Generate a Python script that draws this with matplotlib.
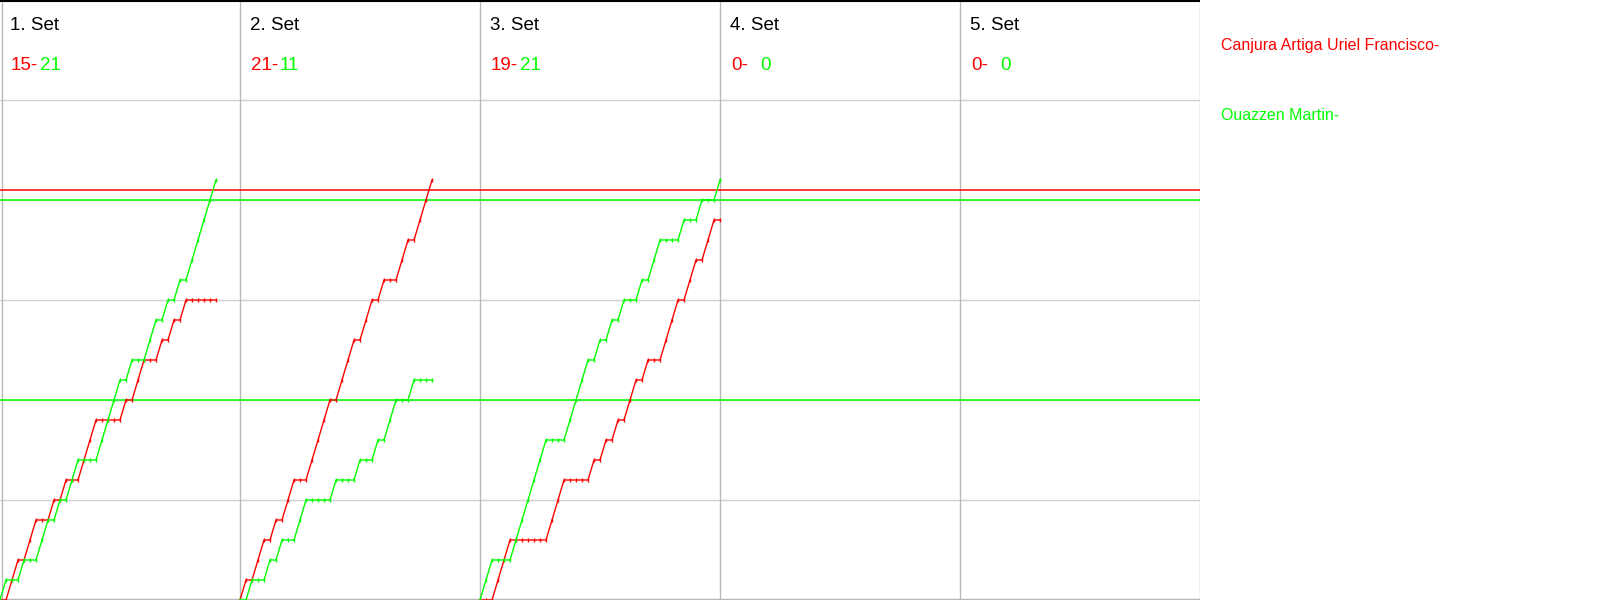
import numpy as np
import matplotlib
matplotlib.use("Agg")
import matplotlib.pyplot as plt

plt.rcParams['font.family'] = ['Liberation Sans', 'DejaVu Sans']

# ---- data (cumulative score after each rally) ----
set_titles = ["1. Set", "2. Set", "3. Set", "4. Set", "5. Set"]
player_red = "Canjura Artiga Uriel Francisco-"
player_green = "Ouazzen Martin-"

red_set1 = [0, 0, 1, 2, 2, 3, 4, 4, 4, 5, 5, 6, 6, 6, 7, 8, 9, 9, 9, 9, 9, 10, 10,
            11, 12, 12, 12, 13, 13, 14, 14, 15, 15, 15, 15, 15, 15]
green_set1 = [0, 1, 1, 1, 2, 2, 2, 3, 4, 4, 5, 5, 6, 7, 7, 7, 7, 8, 9, 10, 11, 11, 12,
              12, 12, 13, 14, 14, 15, 15, 16, 16, 17, 18, 19, 20, 21]

red_set2 = [0, 1, 1, 2, 3, 3, 4, 4, 5, 6, 6, 6, 7, 8, 9, 10, 10, 11, 12, 13, 13, 14,
            15, 15, 16, 16, 16, 17, 18, 18, 19, 20, 21]
green_set2 = [0, 0, 1, 1, 1, 2, 2, 3, 3, 3, 4, 5, 5, 5, 5, 5, 6, 6, 6, 6, 7, 7, 7, 8,
              8, 9, 10, 10, 10, 11, 11, 11, 11]

red_set3 = [0, 0, 0, 1, 2, 3, 3, 3, 3, 3, 3, 3, 4, 5, 6, 6, 6, 6, 6, 7, 7, 8, 8, 9, 9,
            10, 11, 11, 12, 12, 12, 13, 14, 15, 15, 16, 17, 17, 18, 19, 19]
green_set3 = [0, 1, 2, 2, 2, 2, 3, 4, 5, 6, 7, 8, 8, 8, 8, 9, 10, 11, 12, 12, 13, 13,
              14, 14, 15, 15, 15, 16, 16, 17, 18, 18, 18, 18, 19, 19, 19, 20, 20, 20, 21]

red_sets = [red_set1, red_set2, red_set3, [], []]
green_sets = [green_set1, green_set2, green_set3, [], []]
red_final = [15, 21, 19, 0, 0]
green_final = [21, 11, 21, 0, 0]

red_ref_lines = [20.5]
green_ref_lines = [20, 10]

RED = "#ff0000"
GREEN = "#00ff00"
GRID = "#d0d0d0"
VGRID = "#b8b8b8"

PANEL = 40          # rallies per set panel
TOP = 30            # top of the axis (header above 25)
HEADER = 25

fig = plt.figure(figsize=(16, 6), dpi=100)
ax = fig.add_axes([0, 0, 0.75, 1])
ax.set_xlim(0, PANEL * 5)
ax.set_ylim(0, TOP)
ax.axis("off")

# horizontal grid
for yv in [5, 10, 15, 20, HEADER]:
    ax.axhline(yv, color=GRID, lw=1.0, zorder=1)
ax.axhline(0.06, color=VGRID, lw=1.0, zorder=1)
# vertical separators
ax.axvline(0.4, color=VGRID, lw=1.0, zorder=1)
for k in range(1, 6):
    ax.axvline(PANEL * k, color=VGRID, lw=1.0, zorder=1)
# top border
ax.axhline(TOP - 0.04, color="black", lw=1.5, zorder=5)

# reference lines
for yv in red_ref_lines:
    ax.axhline(yv, color=RED, lw=1.1, zorder=3)
for yv in green_ref_lines:
    ax.axhline(yv, color=GREEN, lw=1.1, zorder=3)

# score progressions
for k in range(5):
    r = red_sets[k]
    g = green_sets[k]
    if r:
        x = PANEL * k + np.arange(len(r))
        ax.plot(x, r, color=RED, lw=1.0, marker='|', ms=2.5, mew=1.0, zorder=4)
    if g:
        x = PANEL * k + np.arange(len(g))
        ax.plot(x, g, color=GREEN, lw=1.0, marker='|', ms=2.5, mew=1.0, zorder=4)

# headers
for k in range(5):
    x0 = PANEL * k
    ax.text(x0 + 10 / 6, TOP - 30 / 20, set_titles[k], fontsize=13.5,
            color="black", ha="left", va="baseline")
    ax.text(x0 + 11 / 6, TOP - 70 / 20, f"{red_final[k]}-", fontsize=13.5,
            color=RED, ha="left", va="baseline")
    ax.text(x0 + 40 / 6, TOP - 70 / 20, f"{green_final[k]}", fontsize=13.5,
            color=GREEN, ha="left", va="baseline")

# player names on the right
fig.text(1221 / 1600, 1 - 50 / 600, player_red, fontsize=11.5, color=RED,
         ha="left", va="baseline")
fig.text(1221 / 1600, 1 - 120 / 600, player_green, fontsize=11.5, color=GREEN,
         ha="left", va="baseline")

fig.savefig("out.png", dpi=100, facecolor="white")
